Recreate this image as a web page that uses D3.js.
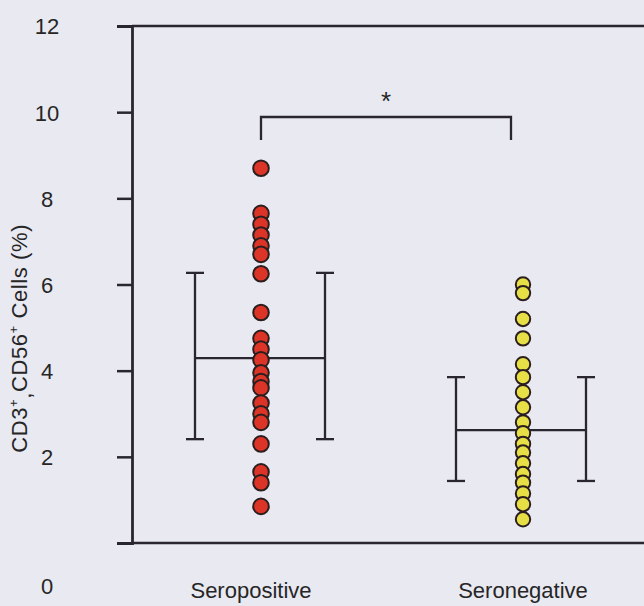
<!DOCTYPE html>
<html><head><meta charset="utf-8">
<script src="https://cdn.jsdelivr.net/npm/d3@7"></script>
<style>html,body{margin:0;padding:0;background:#e9e9f1;}svg{display:block;}</style>
</head><body>
<script>
const categories = ["Seropositive", "Seronegative"];
const seropositive = [8.7, 7.65, 7.4, 7.15, 6.9, 6.7, 6.25, 5.35, 4.75, 4.5, 4.25, 3.95, 3.75, 3.6, 3.25, 3.0, 2.8, 2.3, 1.65, 1.4, 0.85];
const seronegative = [6.0, 5.8, 5.2, 4.75, 4.15, 3.85, 3.5, 3.15, 2.8, 2.55, 2.3, 2.1, 1.85, 1.6, 1.4, 1.15, 0.9, 0.55];
const means = [4.29, 2.62];
const upper = [6.27, 3.85];
const lower = [2.41, 1.44];
const yTicks = [0, 2, 4, 6, 8, 10, 12];
const colors = ["#dc3528", "#e6df45"];

const W = 644, H = 606;
const FONT = "Arial, 'Liberation Sans', sans-serif";
const svg = d3.select("body").append("svg").attr("width", W).attr("height", H)
  .style("font-family", FONT);
svg.append("rect").attr("width", W).attr("height", H).attr("fill", "#e9e9f1");

const y = d3.scaleLinear().domain([0, 12]).range([543, 26]);
const x = d3.scalePoint().domain(categories).range([261, 523]);
const axisX = 132;

// frame: top and bottom lines
svg.append("line").attr("x1", axisX).attr("x2", W).attr("y1", y(12)).attr("y2", y(12)).attr("stroke", "#2a2630").attr("stroke-width", 2.5);
svg.append("line").attr("x1", axisX).attr("x2", W).attr("y1", y(0)).attr("y2", y(0)).attr("stroke", "#2a2630").attr("stroke-width", 2.5);

const yAxis = d3.axisLeft(y).tickValues(yTicks).tickSize(15).tickPadding(0).tickFormat(d3.format("d"));
const gy = svg.append("g").attr("transform", `translate(${axisX},0)`).call(yAxis);
gy.attr("font-size", null).attr("font-family", null);
gy.select(".domain").attr("stroke", "#2a2630").attr("stroke-width", 2.8);
gy.selectAll(".tick line").attr("stroke", "#2a2630").attr("stroke-width", 2.5);
gy.selectAll(".tick text").attr("x", -85).attr("text-anchor", "middle")
  .style("font-size", "22px").attr("fill", "#262626")
  .attr("dy", d => d === 0 ? "2.3em" : "0.36em");

// y title
const title = svg.append("text").attr("transform", `translate(27,${y(4.75)}) rotate(-90)`)
  .attr("text-anchor", "middle").style("font-size", "22px").style("letter-spacing", "0.6px").attr("fill", "#262626");
title.append("tspan").text("CD3");
title.append("tspan").text("+").style("font-size", "13px").attr("dy", -9);
title.append("tspan").text(",").attr("dy", 13);
title.append("tspan").text("CD56").attr("dy", -4);
title.append("tspan").text("+").style("font-size", "13px").attr("dy", -9);
title.append("tspan").text(" Cells (%)").attr("dy", 9);

// category labels
svg.append("g").selectAll("text").data(categories).join("text")
  .attr("x", (d, i) => x(d) + (i === 0 ? -10 : 0)).attr("y", 598)
  .attr("text-anchor", "middle").style("font-size", "22px").attr("fill", "#262626").text(d => d);

// mean and SD bars
const halfMean = 65, capW = 9;
categories.forEach((c, i) => {
  const g = svg.append("g").attr("stroke", "#2a2630").attr("stroke-width", 2.3);
  const cx = x(c) + (i === 0 ? -1 : -2);
  g.append("line").attr("x1", cx - halfMean).attr("x2", cx + halfMean).attr("y1", y(means[i])).attr("y2", y(means[i]));
  [-1, 1].forEach(s => {
    const ex = cx + s * halfMean;
    g.append("line").attr("x1", ex).attr("x2", ex).attr("y1", y(upper[i])).attr("y2", y(lower[i]));
    g.append("line").attr("x1", ex - capW).attr("x2", ex + capW).attr("y1", y(upper[i])).attr("y2", y(upper[i]));
    g.append("line").attr("x1", ex - capW).attr("x2", ex + capW).attr("y1", y(lower[i])).attr("y2", y(lower[i]));
  });
});

// dots
const series = [seropositive, seronegative];
series.forEach((vals, i) => {
  svg.append("g").selectAll("circle").data(vals).join("circle")
    .attr("cx", x(categories[i])).attr("cy", d => y(d))
    .attr("r", i === 0 ? 7.8 : 7.2)
    .attr("fill", colors[i]).attr("stroke", "#2b1e1e").attr("stroke-width", 2);
});

// significance bracket
const by = 117;
svg.append("path").attr("d", `M${x(categories[0])},140 V${by} H${x(categories[1]) - 12} V140`)
  .attr("fill", "none").attr("stroke", "#2a2630").attr("stroke-width", 2.3);
svg.append("text").attr("x", (x(categories[0]) + x(categories[1]) - 12) / 2).attr("y", 110)
  .attr("text-anchor", "middle").style("font-size", "26px").attr("fill", "#262626").text("*");
</script>
</body></html>
